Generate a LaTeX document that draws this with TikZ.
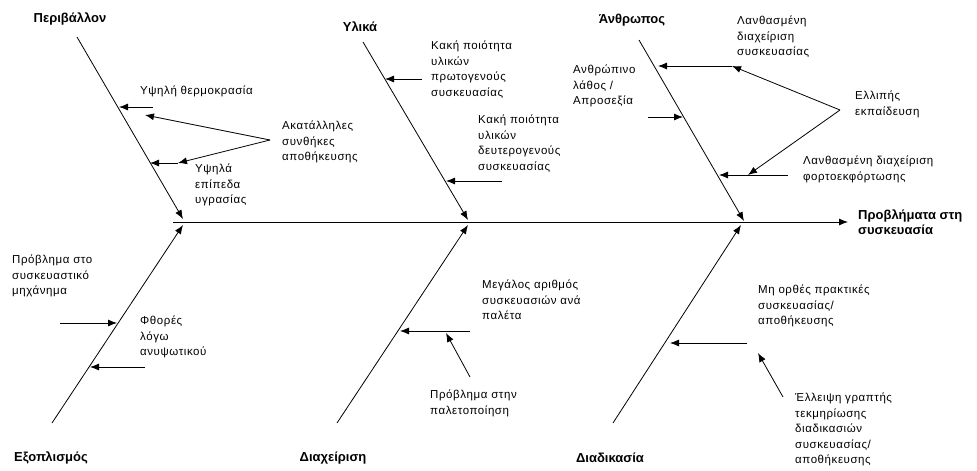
\documentclass[tikz,border=0pt]{standalone}
\usepackage{fontspec}
\setmainfont{Liberation Sans}
\newfontfamily\causefont[LetterSpace=5]{Liberation Sans}
\usetikzlibrary{arrows.meta}

\tikzset{
  bone/.style={line width=0.8pt, -{Latex[length=9pt,width=7pt]}},
  twig/.style={line width=0.8pt, -{Latex[length=9pt,width=7pt]}},
  category/.style={font=\bfseries\fontsize{13}{15}\selectfont, inner sep=0pt},
  cause/.style={font=\causefont\fontsize{11.5}{15.5}\selectfont, align=left, anchor=north west, inner sep=0pt},
}

\begin{document}
\begin{tikzpicture}[x=1pt,y=-1pt]
        \useasboundingbox (0,0) rectangle (977,471);
        % spine
        \coordinate (tail) at (173,222);
        \coordinate (head) at (848,222);
        \node[category, anchor=west, align=left] (effect) at (858,222) {Προβλήματα στη\\συσκευασία};
        \draw[bone] (tail) -- (head);

        % upper bones
        \node[category] (env) at (70,19) {Περιβάλλον};
        \node[category] (mat) at (360,27) {Υλικά};
        \node[category] (man) at (632,20) {Άνθρωπος};
        \coordinate (envtop) at (77,37);   \coordinate (envend) at (183,219);
        \coordinate (mattop) at (363,42);  \coordinate (matend) at (468,220);
        \coordinate (mantop) at (639,40);  \coordinate (manend) at (744,221);
        \draw[bone] (envtop) -- (envend);
        \draw[bone] (mattop) -- (matend);
        \draw[bone] (mantop) -- (manend);

        % lower bones
        \node[category] (eqp) at (51,458) {Εξοπλισμός};
        \node[category] (mgt) at (333,458) {Διαχείριση};
        \node[category] (prc) at (610,458) {Διαδικασία};
        \coordinate (eqpbot) at (52,423);  \coordinate (eqpend) at (183,225);
        \coordinate (mgtbot) at (337,423); \coordinate (mgtend) at (468,225);
        \coordinate (prcbot) at (613,423); \coordinate (prcend) at (741,225);
        \draw[bone] (eqpbot) -- (eqpend);
        \draw[bone] (mgtbot) -- (mgtend);
        \draw[bone] (prcbot) -- (prcend);

        % Περιβάλλον
        \node[cause, anchor=west] (heat) at (140,91) {Υψηλή θερμοκρασία};
        \node[cause] (storage) at (282,121) {Ακατάλληλες\\συνθήκες\\αποθήκευσης};
        \node[cause] (humid) at (195,164) {Υψηλά\\επίπεδα\\υγρασίας};
        \coordinate (heatfrom) at (153,107); \coordinate (heaton) at (119,107);
        \coordinate (humidfrom) at (178,163); \coordinate (humidon) at (150,163);
        \coordinate (storagefrom) at (270,140);
        \draw[twig] (heatfrom) -- (heaton);
        \draw[twig] (humidfrom) -- (humidon);
        \draw[twig] (storagefrom) -- (145,115);
        \draw[twig] (storagefrom) -- (humidfrom);

        % Υλικά
        \node[cause] (primary) at (431,41) {Κακή ποιότητα\\υλικών\\πρωτογενούς\\συσκευασίας};
        \node[cause] (secondary) at (478,115) {Κακή ποιότητα\\υλικών\\δευτερογενούς\\συσκευασίας};
        \coordinate (primaryfrom) at (422,79);   \coordinate (primaryon) at (385,79);
        \coordinate (secondaryfrom) at (502,181); \coordinate (secondaryon) at (446,181);
        \draw[twig] (primaryfrom) -- (primaryon);
        \draw[twig] (secondaryfrom) -- (secondaryon);

        % Άνθρωπος
        \node[cause] (handling) at (737,16) {Λανθασμένη\\διαχείριση\\συσκευασίας};
        \node[cause] (error) at (573,65) {Ανθρώπινο\\λάθος /\\Απροσεξία};
        \node[cause] (training) at (855,91) {Ελλιπής\\εκπαίδευση};
        \node[cause] (loading) at (803,156) {Λανθασμένη διαχείριση\\φορτοεκφόρτωσης};
        \coordinate (handlingfrom) at (732,66); \coordinate (handlingon) at (658,66);
        \coordinate (errorfrom) at (648,117);   \coordinate (erroron) at (683,117);
        \coordinate (trainingfrom) at (840,110);
        \coordinate (loadingfrom) at (788,175); \coordinate (loadingmid) at (748,175);
        \coordinate (loadingon) at (719,175);
        \draw[twig] (handlingfrom) -- (handlingon);
        \draw[twig] (errorfrom) -- (erroron);
        \draw[twig] (loadingfrom) -- (loadingon);
        \draw[twig] (trainingfrom) -- (handlingfrom);
        \draw[twig] (trainingfrom) -- (loadingmid);

        % Εξοπλισμός
        \node[cause] (machine) at (12,255) {Πρόβλημα στο\\συσκευαστικό\\μηχάνημα};
        \node[cause] (forklift) at (140,316) {Φθορές\\λόγω\\ανυψωτικού};
        \coordinate (machinefrom) at (60,323);   \coordinate (machineon) at (117,323);
        \coordinate (forkliftfrom) at (145,367); \coordinate (forklifton) at (90,367);
        \draw[twig] (machinefrom) -- (machineon);
        \draw[twig] (forkliftfrom) -- (forklifton);

        % Διαχείριση
        \node[cause] (pallet) at (482,280) {Μεγάλος αριθμός\\συσκευασιών ανά\\παλέτα};
        \node[cause] (palletizing) at (430,390) {Πρόβλημα στην\\παλετοποίηση};
        \coordinate (palletfrom) at (470,331); \coordinate (palleton) at (400,331);
        \coordinate (palletizingfrom) at (470,377); \coordinate (palletizingto) at (446,333);
        \draw[twig] (palletfrom) -- (palleton);
        \draw[twig] (palletizingfrom) -- (palletizingto);

        % Διαδικασία
        \node[cause] (practice) at (758,285) {Μη ορθές πρακτικές\\συσκευασίας/\\αποθήκευσης};
        \node[cause] (docs) at (795,393) {Έλλειψη γραπτής\\τεκμηρίωσης\\διαδικασιών\\συσκευασίας/\\αποθήκευσης};
        \coordinate (practicefrom) at (747,343); \coordinate (practiceon) at (670,343);
        \coordinate (docsfrom) at (783,397);     \coordinate (docsto) at (758,353);
        \draw[twig] (practicefrom) -- (practiceon);
        \draw[twig] (docsfrom) -- (docsto);
\end{tikzpicture}
\end{document}
